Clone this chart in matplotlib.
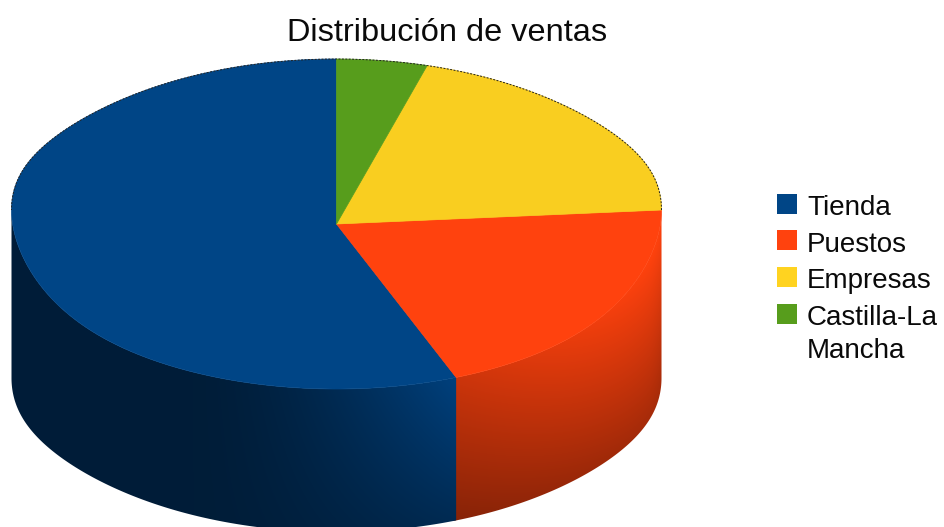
import numpy as np
from matplotlib import pyplot as plt
from matplotlib.colors import to_rgb
from matplotlib.patches import Polygon, Rectangle

categories = ['Tienda', 'Puestos', 'Empresas', 'Castilla-La\nMancha']
# shares in percent
shares = [56.0, 19.0, 20.5, 4.5]
colors = ['#004586', '#ff420e', '#f9ce20', '#579d1c']
legend_colors = ['#004586', '#ff420e', '#ffd320', '#579d1c']

W, H = 945, 527
cx, cy = 336.5, 224
rx, ry = 325, 165
depth = 143

plt.rcParams['font.family'] = ['Liberation Sans', 'DejaVu Sans']

fig = plt.figure(figsize=(W / 100, H / 100), dpi=100)
ax = fig.add_axes([0, 0, 1, 1])
ax.set_xlim(0, W)
ax.set_ylim(H, 0)
ax.axis('off')


def rim(a, lower=False):
    # a is measured from the top of the pie, counter clockwise
    s = np.sin(a)
    x = cx - rx * s
    y = cy - ry * np.cos(a) - 14 * s ** 8
    if lower:
        y = y + depth + 25 * s ** 8
    return x, y


def side_shade(name, X, Y):
    s = np.clip(np.abs(X - cx) / rx, 0, 1)
    ytop = cy + ry * np.sqrt(1 - s ** 2) - 14 * s ** 8
    v = np.clip((Y - ytop) / (depth + 25 * s ** 8), 0, 1)
    if name == 'blue':
        t = np.clip((X - 190) / (457 - 190), 0, 1) ** 1.6
        top = 0.42 + 0.52 * t
        bot = 0.42 + 0.20 * t
    else:
        t = np.clip((X - 457) / (650 - 457), 0, 1)
        top = 0.80 + 0.20 * t
        bot = 0.53 + 0.12 * t
    return top + (bot - top) * v


fractions = np.array(shares) / sum(shares)
edges = np.concatenate([[0], np.cumsum(fractions)]) * 2 * np.pi

# side wall, only the part of the rim that faces the viewer
# red goes first and runs a little under the blue so no seam shows
X, Y = np.meshgrid(np.arange(W) + 0.5, np.arange(H) + 0.5)
sides = [(1, 'red', 1, edges[1] - 0.01, 3 * np.pi / 2),
         (0, 'blue', 1.5, np.pi / 2, edges[1])]
for i, name, z, a0, a1 in sides:
    aa = np.linspace(a0, a1, 300)
    tx, ty = rim(aa)
    bx, by = rim(aa[::-1], lower=True)
    poly = Polygon(np.column_stack([np.r_[tx, bx], np.r_[ty, by]]), closed=True,
                   fc='none', ec='none', transform=ax.transData)
    ax.add_patch(poly)
    img = np.clip(side_shade(name, X, Y)[..., None] * np.array(to_rgb(colors[i])), 0, 1)
    im = ax.imshow(img, extent=(0, W, H, 0), interpolation='bilinear', zorder=z, aspect='auto')
    im.set_clip_path(poly)

ax.set_xlim(0, W)
ax.set_ylim(H, 0)

# top face
for i in range(len(shares)):
    aa = np.linspace(edges[i], edges[i + 1], 300)
    px, py = rim(aa)
    ax.fill(np.r_[cx, px], np.r_[cy, py], fc=colors[i], ec=colors[i], lw=0.5, zorder=2)

# thin dark rim along the back of the pie
aa = np.linspace(-np.pi / 2, np.pi / 2, 400)
px, py = rim(aa)
ax.plot(px, py, color='#222222', lw=0.7, ls=(0, (2, 1.5)), zorder=3)

ax.text(447.5, 41, 'Distribución de ventas', fontsize=23.4, ha='center', va='baseline', color='#0a0a0a')

# legend
box_y = [194, 230, 267, 304]
text_y = [215, 252, 288, 358]
for name, col, by, ty in zip(categories, legend_colors, box_y, text_y):
    ax.add_patch(Rectangle((777, by), 20, 19.5, fc=col, ec='none', zorder=3))
    ax.text(807, ty, name, fontsize=20, ha='left', va='baseline', linespacing=1.36, color='#0a0a0a')

fig.savefig('out.png', dpi=100)
